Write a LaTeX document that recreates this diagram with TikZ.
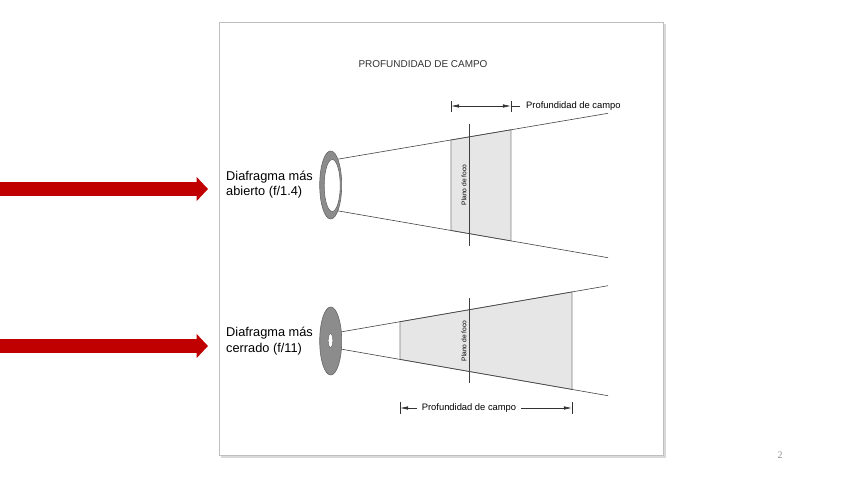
\documentclass[tikz,border=0pt]{standalone}
\usepackage{fontspec}
\setmainfont{Liberation Sans}
\newfontfamily\pagefont{Liberation Serif}
\usepackage{tikz}
\usetikzlibrary{arrows.meta,calc}
\definecolor{slidered}{HTML}{C00000}
\definecolor{ringgray}{HTML}{8C8C8C}
\definecolor{depthgray}{HTML}{E6E6E6}
\tikzset{
  >={Latex[length=7pt,width=3pt]},
  panel/.style={draw=black!25, fill=white, line width=0.6pt},
  headtext/.style={font=\fontsize{8.5}{10}\selectfont, text=black!80},
  lbltext/.style={font=\fontsize{10.9}{13}\selectfont, align=left, anchor=west, inner sep=0pt},
  dimtext/.style={font=\fontsize{8}{10}\selectfont, inner sep=0pt},
  focustext/.style={font=\fontsize{5.7}{7}\selectfont, rotate=90, inner sep=0pt},
  ray/.style={draw=black!75, line width=0.5pt},
  depth/.style={fill=depthgray, draw=black!50, line width=0.6pt},
  focusplane/.style={draw=black!75, line width=0.6pt},
  dimline/.style={draw=black!80, line width=0.5pt},
  ringfill/.style={fill=ringgray, draw=black!60, line width=0.5pt},
  redarrow/.style={draw=slidered, line width=11.5pt, -{Triangle[length=0.34cm,width=0.7cm]}},
}

\begin{document}
\begin{tikzpicture}[x=0.03cm, y=-0.03cm]
  \useasboundingbox (0,0) rectangle (848,477);
  % slide panel
  \fill[black!15] (221,24) rectangle (666,458);
  \draw[panel] (219,22) rectangle (663,455);
  \node[headtext] (ttl) at (423,64) {PROFUNDIDAD DE CAMPO};

  % red pointers
  \coordinate (p1s) at (0,189);  \coordinate (p1e) at (208,189);
  \coordinate (p2s) at (0,346);  \coordinate (p2e) at (208,346);
  \draw[redarrow] (p1s) -- (p1e);
  \draw[redarrow] (p2s) -- (p2e);

  % wide aperture
  \coordinate (a1) at (333,160);  \coordinate (a2) at (608,113.3);
  \coordinate (b1) at (333,210);  \coordinate (b2) at (608,257.7);
  \path[depth] ($(a1)!0.429!(a2)$) -- ($(b1)!0.429!(b2)$)
    -- ($(b1)!0.647!(b2)$) -- ($(a1)!0.647!(a2)$) -- cycle;
  \draw[ray] (a1) -- (a2);
  \draw[ray] (b1) -- (b2);
  \coordinate (f1t) at (469,124);  \coordinate (f1b) at (469,246);
  \draw[focusplane] (f1t) -- (f1b);
  \node[focustext] (foc1) at (464,185) {Plano de foco};
  \draw[ringfill] (330.7,185) ellipse [x radius=11, y radius=34];
  \draw[fill=white, draw=black!60, line width=0.5pt] (332.2,185.5) ellipse [x radius=8, y radius=26];
  \node[lbltext] (lab1) at (226,185) {Diafragma más\\abierto (f/1.4)};

  % depth marker, top
  \coordinate (t1) at (451,106);  \coordinate (t2) at (511,106);
  \draw[dimline] ($(t1)+(0,-5)$) -- ($(t1)+(0,6)$);
  \draw[dimline] ($(t2)+(0,-5)$) -- ($(t2)+(0,6)$);
  \draw[dimline, <->] (t1) -- (t2);
  \node[dimtext, anchor=west] (dep1) at (526,106) {Profundidad de campo};
  \draw[dimline] (t2) -- ($(dep1.west)+(-6,0)$);

  % narrow aperture
  \coordinate (c1) at (333,333.3);  \coordinate (c2) at (608,285.7);
  \coordinate (d1) at (333,347.7);  \coordinate (d2) at (608,395.7);
  \path[depth] ($(c1)!0.2436!(c2)$) -- ($(d1)!0.2436!(d2)$)
    -- ($(d1)!0.8691!(d2)$) -- ($(c1)!0.8691!(c2)$) -- cycle;
  \draw[ray] (c1) -- (c2);
  \draw[ray] (d1) -- (d2);
  \coordinate (f2t) at (469,298);  \coordinate (f2b) at (469,383);
  \draw[focusplane] (f2t) -- (f2b);
  \node[focustext] (foc2) at (464,341) {Plano de foco};
  \draw[ringfill] (330.7,341) ellipse [x radius=11, y radius=34];
  \draw[fill=white, draw=black!60, line width=0.4pt] (330.5,340.5) ellipse [x radius=2.3, y radius=7];
  \node[lbltext] (lab2) at (226,341) {Diafragma más\\cerrado (f/11)};

  % depth marker, bottom
  \coordinate (u1) at (400,408);  \coordinate (u2) at (572,408);
  \draw[dimline] ($(u1)+(0,-6)$) -- ($(u1)+(0,6)$);
  \draw[dimline] ($(u2)+(0,-6)$) -- ($(u2)+(0,6)$);
  \node[dimtext] (dep2) at (469,408) {Profundidad de campo};
  \draw[dimline, ->] ($(dep2.west)+(-5,0)$) -- (u1);
  \draw[dimline, ->] ($(dep2.east)+(5,0)$) -- (u2);

  \node[font=\pagefont\fontsize{8.5}{10}\selectfont, text=black!45] (pg) at (780,455) {2};
\end{tikzpicture}
\end{document}
